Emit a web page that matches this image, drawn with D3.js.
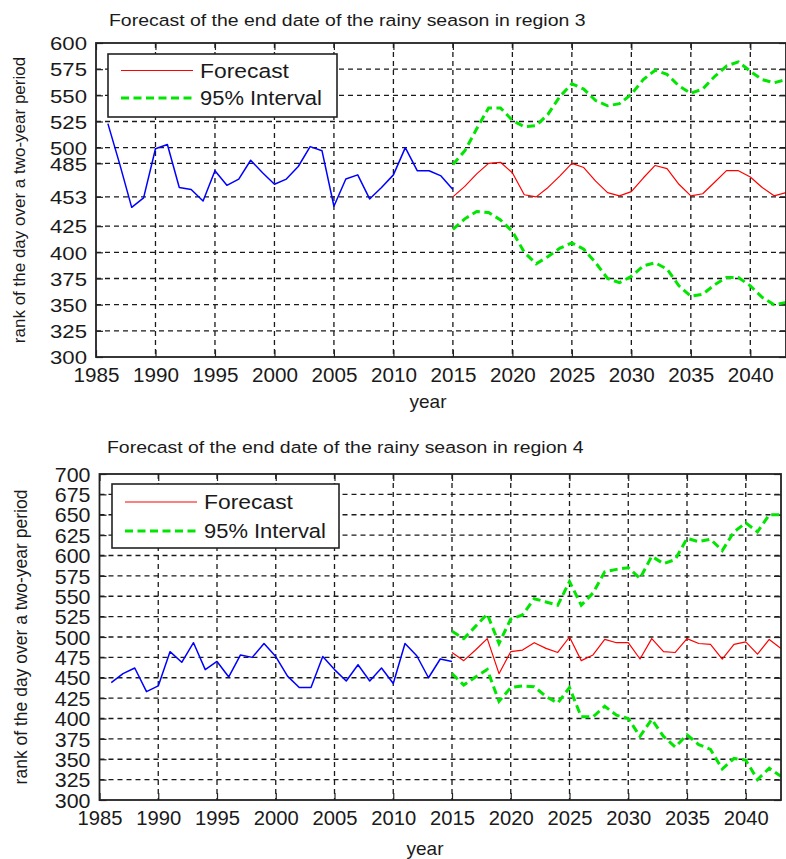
<!DOCTYPE html>
<html>
<head>
<meta charset="utf-8">
<script src="https://cdn.jsdelivr.net/npm/d3@7"></script>
<style>
  html, body { margin: 0; padding: 0; background: #fff; }
  svg { display: block; }
  text { font-family: "Liberation Sans", Arial, Helvetica, sans-serif; fill: #1a1a1a; }
</style>
</head>
<body>
<svg id="chart" width="786" height="859"></svg>
<script>
// ---- data -------------------------------------------------------------
const observedYears = d3.range(1986, 2016);   // 1986 .. 2015
const forecastYears = d3.range(2015, 2044);   // 2015 .. 2043

// Region 3: end date of the rainy season (rank of the day over two years)
const region3Observed = [523, 484, 443, 452, 499, 503, 462, 460, 449, 478,
                         464, 470, 488, 476, 465, 470, 482, 501, 497, 444,
                         470, 474, 451, 462, 474, 500, 478, 478, 473, 460];
const region3Forecast = [453, 463, 475, 485, 486, 476, 455, 453, 462, 473,
                         485, 481, 468, 457, 454, 458, 471, 483, 480, 465,
                         454, 456, 467, 478, 478, 472, 462, 454, 457];
const region3Upper    = [484, 497, 518, 538, 538, 526, 520, 521, 532, 549,
                         561, 556, 545, 540, 542, 551, 565, 574, 570, 559,
                         552, 556, 568, 578, 582, 573, 565, 562, 565];
const region3Lower    = [422, 432, 439, 438, 431, 420, 400, 389, 396, 404,
                         409, 403, 390, 375, 371, 377, 387, 390, 384, 368,
                         358, 360, 369, 376, 376, 368, 357, 350, 352];

// Region 4
const region4Observed = [444, 455, 462, 433, 440, 482, 469, 493, 460, 470,
                         451, 478, 475, 492, 476, 452, 438, 438, 476, 460,
                         446, 466, 446, 462, 443, 492, 477, 450, 473, 470];
const region4Forecast = [481, 471, 484, 498, 455, 482, 484, 493, 486, 481,
                         500, 471, 478, 497, 493, 493, 473, 498, 482, 481,
                         498, 492, 491, 473, 491, 494, 479, 497, 486];
const region4Upper    = [507, 498, 513, 528, 492, 522, 527, 547, 543, 539,
                         568, 539, 554, 580, 583, 585, 572, 599, 590, 595,
                         621, 617, 620, 606, 629, 640, 629, 650, 650];
const region4Lower    = [455, 441, 451, 460, 421, 438, 440, 439, 427, 419,
                         438, 402, 402, 415, 404, 400, 378, 399, 378, 365,
                         380, 368, 362, 338, 351, 349, 325, 339, 329];

// tick labels
const xTickYears   = [1985, 1990, 1995, 2000, 2005, 2010, 2015, 2020, 2025, 2030, 2035, 2040];
const region3YTicks = [300, 325, 350, 375, 400, 425, 453, 485, 500, 525, 550, 575, 600];
const region4YTicks = [300, 325, 350, 375, 400, 425, 450, 475, 500, 525, 550, 575, 600, 625, 650, 675, 700];

const legendLabels = ["Forecast", "95% Interval"];
const xTitle = "year";
const yTitle = "rank of the day over a two-year period";

// ---- styling ----------------------------------------------------------
const C = {
  observed: "#0000ff",
  forecast: "#ff0000",
  interval: "#00e600",
  axis: "#222",
  grid: "#1a1a1a"
};

const svg = d3.select("#chart");

// Fit a text element to a target width with a horizontal scale.
function stretchText(sel, width) {
  sel.each(function () {
    const t = d3.select(this);
    const len = this.getComputedTextLength();
    const sx = width / len;
    const x = +t.attr("x") || 0, y = +t.attr("y") || 0;
    t.attr("x", null).attr("y", null)
     .attr("transform", `translate(${x},${y}) scale(${sx},1)`);
  });
}

function drawPanel(cfg) {
  const x = d3.scaleLinear().domain([1985, 2043]).range([cfg.left, cfg.right]);
  const y = d3.scaleLinear().domain(cfg.yDomain).range([cfg.bottom, cfg.top]);
  const g = svg.append("g");

  const clipId = "clip-" + cfg.id;
  g.append("clipPath").attr("id", clipId)
    .append("rect")
    .attr("x", cfg.left).attr("y", cfg.top)
    .attr("width", cfg.right - cfg.left).attr("height", cfg.bottom - cfg.top);

  // dashed grid
  const grid = g.append("g");
  grid.selectAll(".vg").data(xTickYears.filter(v => v > 1985))
    .join("line")
    .attr("x1", d => x(d)).attr("x2", d => x(d))
    .attr("y1", cfg.top).attr("y2", cfg.bottom)
    .attr("stroke", C.grid).attr("stroke-width", 1.3)
    .attr("stroke-dasharray", "5,4");
  grid.selectAll(".hg").data(cfg.yTicks.filter(v => v > cfg.yDomain[0] && v < cfg.yDomain[1]))
    .join("line")
    .attr("x1", cfg.left).attr("x2", cfg.right)
    .attr("y1", d => y(d)).attr("y2", d => y(d))
    .attr("stroke", C.grid).attr("stroke-width", 1.3)
    .attr("stroke-dasharray", "5,4");

  // axes (inward ticks on all four sides)
  const tickLen = 7;
  const xAxisB = d3.axisBottom(x).tickValues(xTickYears).tickSize(-tickLen).tickFormat(d3.format("d"));
  const xAxisT = d3.axisTop(x).tickValues(xTickYears).tickSize(-tickLen).tickFormat("");
  const yAxisL = d3.axisLeft(y).tickValues(cfg.yTicks).tickSize(-tickLen).tickFormat(d3.format("d"));
  const yAxisR = d3.axisRight(y).tickValues(cfg.yTicks).tickSize(-tickLen).tickFormat("");

  const axB = g.append("g").attr("transform", `translate(0,${cfg.bottom})`).call(xAxisB);
  const axT = g.append("g").attr("transform", `translate(0,${cfg.top})`).call(xAxisT);
  const axL = g.append("g").attr("transform", `translate(${cfg.left},0)`).call(yAxisL);
  const axR = g.append("g").attr("transform", `translate(${cfg.right},0)`).call(yAxisR);
  [axB, axT, axL, axR].forEach(a => {
    a.select(".domain").remove();
    a.selectAll(".tick line").attr("stroke", C.axis).attr("stroke-width", 1.2);
  });

  // series
  const line = d3.line().x(d => x(d[0])).y(d => y(d[1]));
  const lines = g.append("g").attr("clip-path", `url(#${clipId})`);
  const pair = (yrs, vals) => yrs.map((yr, i) => [yr, vals[i]]);

  lines.append("path").datum(pair(observedYears, cfg.observed))
    .attr("d", line).attr("fill", "none")
    .attr("stroke", C.observed).attr("stroke-width", 1.5).attr("stroke-linejoin", "round");
  lines.append("path").datum(pair(forecastYears, cfg.forecast))
    .attr("d", line).attr("fill", "none")
    .attr("stroke", C.forecast).attr("stroke-width", 1.2).attr("stroke-linejoin", "round");
  [cfg.upper, cfg.lower].forEach(vals => {
    lines.append("path").datum(pair(forecastYears, vals))
      .attr("d", line).attr("fill", "none")
      .attr("stroke", C.interval).attr("stroke-width", 3)
      .attr("stroke-dasharray", "8,4.5");
  });

  // frame
  g.append("rect")
    .attr("x", cfg.left).attr("y", cfg.top)
    .attr("width", cfg.right - cfg.left).attr("height", cfg.bottom - cfg.top)
    .attr("fill", "none").attr("stroke", C.axis).attr("stroke-width", 1.8);

  // tick labels
  axB.selectAll(".tick text")
    .attr("fill", "#1a1a1a").attr("font-size", 20.5).attr("dy", null)
    .attr("y", cfg.xLabelBase - cfg.bottom)
    .each(function () {
      const t = d3.select(this);
      const len = this.getComputedTextLength();
      t.attr("transform", `scale(${cfg.xLabelW / len},1)`);
    });
  axL.selectAll(".tick text")
    .attr("fill", "#1a1a1a").attr("font-size", cfg.yLabelSize)
    .attr("dy", "0.36em")
    .each(function () {
      const t = d3.select(this);
      const len = this.getComputedTextLength();
      const sx = cfg.yLabelW / len;
      t.attr("x", -(cfg.left - cfg.yLabelRight) / sx)
       .attr("transform", `scale(${sx},1)`);
    });

  // titles
  g.append("text").attr("x", cfg.titleX).attr("y", cfg.titleY)
    .attr("font-size", 17).text(cfg.title)
    .call(stretchText, cfg.titleW);

  g.append("text").attr("x", cfg.xTitleX).attr("y", cfg.xTitleY)
    .attr("font-size", 19).attr("text-anchor", "middle").text(xTitle);

  g.append("text")
    .attr("transform", `translate(${cfg.yTitleX},${(cfg.top + cfg.bottom) / 2}) rotate(-90)`)
    .attr("font-size", cfg.yTitleSize).attr("text-anchor", "middle").text(yTitle);

  // legend
  const L = cfg.legend;
  const lg = g.append("g");
  lg.append("rect").attr("x", L.x).attr("y", L.y).attr("width", L.w).attr("height", L.h)
    .attr("fill", "#fff").attr("stroke", C.axis).attr("stroke-width", 1.6);
  const rows = [
    { label: legendLabels[0], color: C.forecast, width: 1.2, dash: null, w: 89 },
    { label: legendLabels[1], color: C.interval, width: 3, dash: "8,4.5", w: 122 }
  ];
  rows.forEach((r, i) => {
    const ry = L.rowY[i];
    lg.append("line")
      .attr("x1", L.x + 13).attr("x2", L.x + 85)
      .attr("y1", ry).attr("y2", ry)
      .attr("stroke", r.color).attr("stroke-width", r.width)
      .attr("stroke-dasharray", r.dash);
    lg.append("text").attr("x", L.x + 92).attr("y", ry + 7)
      .attr("font-size", 19.5).text(r.label)
      .call(stretchText, r.w);
  });
}

drawPanel({
  id: "r3", left: 96, right: 786, top: 43, bottom: 357,
  yDomain: [300, 600], yTicks: region3YTicks,
  observed: region3Observed, forecast: region3Forecast,
  upper: region3Upper, lower: region3Lower,
  title: "Forecast of the end date of the rainy season in region 3",
  titleX: 109, titleY: 25.5, titleW: 477,
  xLabelBase: 382, xLabelW: 46,
  yLabelSize: 18.5, yLabelW: 37, yLabelRight: 87,
  xTitleX: 428, xTitleY: 408,
  yTitleX: 25, yTitleSize: 17,
  legend: { x: 108, y: 54, w: 229, h: 63, rowY: [70.5, 98] }
});

drawPanel({
  id: "r4", left: 99.5, right: 781, top: 474, bottom: 800,
  yDomain: [300, 700], yTicks: region4YTicks,
  observed: region4Observed, forecast: region4Forecast,
  upper: region4Upper, lower: region4Lower,
  title: "Forecast of the end date of the rainy season in region 4",
  titleX: 107, titleY: 453, titleW: 477,
  xLabelBase: 825, xLabelW: 45,
  yLabelSize: 20, yLabelW: 35.7, yLabelRight: 90.5,
  xTitleX: 425, xTitleY: 855,
  yTitleX: 27, yTitleSize: 17.5,
  legend: { x: 112, y: 484, w: 227, h: 64, rowY: [502, 531] }
});
</script>
</body>
</html>
